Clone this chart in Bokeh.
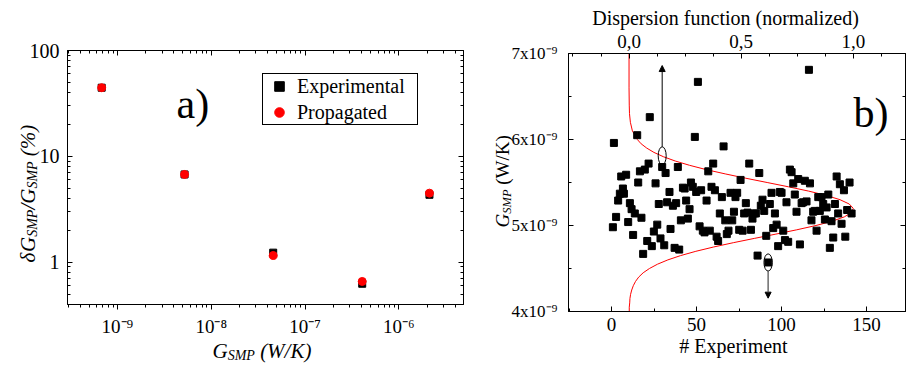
import math
from bokeh.plotting import figure
from bokeh.models import (Range1d, FixedTicker, LogAxis, LinearAxis, CustomJSTickFormatter,
                          Legend, LegendItem, Label, Arrow, NormalHead, GridBox)
from bokeh.embed import file_html
from bokeh.resources import INLINE

FONT = "Liberation Serif"

# ---------------- Panel a data ----------------
g_smp_a = [6.8e-10, 5.2e-9, 4.58e-8, 4.07e-7, 2.12e-6]          # W/K
err_experimental = [44.5, 6.74, 1.23, 0.625, 4.33]               # %
err_propagated = [44.5, 6.74, 1.157, 0.657, 4.49]                # %
a_major_x = [1e-9, 1e-8, 1e-7, 1e-6]
a_major_y = [1, 10, 100]

# ---------------- Panel b data ----------------
experiment_no = [0.8, 1.4, 2.7, 3.9, 4.9, 5.7, 6.7, 7.3, 8.6, 9.8,
                 10.8, 11.8, 12.7, 13.7, 15.1, 15.7, 16.7, 17.6, 18.6, 19.6,
                 21.0, 21.8, 22.5, 23.7, 24.9, 25.9, 26.9, 27.8, 28.8, 29.8,
                 31.0, 31.8, 32.7, 34.1, 34.7, 36.1, 37.1, 38.0, 39.0, 39.8,
                 40.8, 42.0, 43.0, 43.9, 44.9, 45.9, 46.7, 47.8, 49.0, 49.8,
                 50.8, 51.8, 52.7, 53.7, 54.7, 55.9, 56.9, 57.8, 58.8, 59.8,
                 60.8, 61.8, 62.7, 63.7, 64.9, 65.9, 66.9, 67.8, 68.8, 70.0,
                 71.0, 72.0, 72.9, 73.9, 75.1, 75.9, 77.1, 78.0, 79.0, 80.0,
                 81.0, 82.0, 82.9, 83.9, 84.9, 85.9, 86.9, 87.8, 88.8, 89.8,
                 91.0, 92.2, 93.1, 94.1, 95.1, 96.1, 97.1, 98.0, 99.0, 100.0,
                 101.0, 102.0, 102.9, 103.9, 104.9, 105.9, 106.9, 107.8, 108.8, 109.8,
                 110.8, 111.8, 112.7, 113.7, 114.7, 116.1, 116.7, 117.6, 118.6, 119.6,
                 120.6, 121.6, 122.5, 123.5, 124.5, 125.5, 126.5, 127.5, 128.4, 129.4,
                 130.4, 131.4, 132.4, 133.3, 134.3, 135.3, 136.7, 137.5, 138.6, 140.0,
                 141.2]
# G_SMP in units of 1e-9 W/K
g_smp_b = [4.98, 5.96, 5.10, 5.29, 5.37, 5.57, 5.43, 5.37, 5.59, 5.04,
           5.26, 5.19, 4.89, 5.14, 6.05, 5.50, 5.63, 5.09, 4.67, 5.65,
           4.82, 5.72, 6.26, 4.76, 4.93, 5.49, 5.01, 5.25, 4.85, 5.68,
           4.77, 5.61, 5.27, 5.39, 4.96, 5.23, 4.74, 5.26, 5.68, 4.72,
           5.06, 5.44, 5.43, 5.29, 5.08, 5.19, 5.50, 5.45, 6.03, 5.39,
           6.67, 4.99, 5.41, 4.94, 4.92, 5.29, 5.63, 4.94, 5.45, 5.72,
           5.41, 4.87, 4.82, 5.14, 5.33, 5.92, 5.06, 4.90, 4.94, 5.38,
           5.06, 5.16, 5.33, 5.38, 4.95, 5.53, 4.94, 5.14, 5.26, 5.15,
           5.72, 4.95, 5.08, 5.14, 5.14, 4.65, 5.61, 5.23, 5.30, 5.17,
           4.88, 4.57, 5.25, 5.38, 4.97, 5.14, 5.01, 4.76, 5.39, 5.38,
           4.94, 4.83, 5.27, 4.81, 5.65, 5.62, 5.49, 5.36, 5.16, 5.54,
           4.78, 5.26, 5.27, 5.52, 5.28, 6.81, 5.49, 5.06, 5.16, 5.17,
           4.94, 5.33, 5.17, 5.33, 5.25, 5.07, 5.21, 5.36, 4.74, 5.05,
           4.86, 5.25, 5.57, 5.14, 5.48, 5.02, 5.41, 4.87, 5.18, 5.50,
           5.14]
# dispersion function (normalized) read along G_SMP (units of 1e-9 W/K)
disp_g = [4.00, 4.05, 4.10, 4.15, 4.20, 4.25, 4.30, 4.35, 4.40, 4.45,
          4.50, 4.55, 4.60, 4.65, 4.70, 4.75, 4.80, 4.85, 4.90, 4.95,
          5.00, 5.05, 5.10, 5.15, 5.20, 5.25, 5.30, 5.35, 5.40, 5.45,
          5.50, 5.55, 5.60, 5.65, 5.70, 5.75, 5.80, 5.85, 5.90, 5.95,
          6.00, 6.10, 6.20, 6.30, 6.40, 6.60, 7.00]
disp_value = [0.001, 0.001, 0.003, 0.004, 0.007, 0.012, 0.019, 0.029, 0.043, 0.063,
              0.091, 0.127, 0.173, 0.230, 0.298, 0.377, 0.465, 0.559, 0.655, 0.748,
              0.834, 0.906, 0.960, 0.992, 1.000, 0.982, 0.941, 0.879, 0.801, 0.711,
              0.616, 0.520, 0.429, 0.344, 0.270, 0.206, 0.153, 0.111, 0.079, 0.054,
              0.037, 0.015, 0.006, 0.002, 0.001, 0.000, 0.000]
b_major_x = [0, 50, 100, 150]
b_major_y = [4, 5, 6, 7]
b_major_top = [0.0, 0.5, 1.0]

# annotation marks (axis indicators)
curve_marker = dict(x=29.8, y=5.81, w=4.7, h=0.21, y_tip=6.86)
points_marker = dict(x=92.1, y=4.57, w=4.9, h=0.20, y_tip=4.155)

W_TOTAL, H_TOTAL = 906, 365

# ---------------- helpers ----------------
W_UP = {'G': 722, 'S': 556, 'M': 889, 'P': 556, ' ': 250, '(': 333, ')': 333,
        'W': 944, '/': 278, 'K': 722, '%': 833}
W_IT = {'δ': 500, 'G': 722, 'S': 500, 'M': 833, 'P': 611, ' ': 250, '(': 333, ')': 333,
        'W': 833, '/': 278, 'K': 667, '%': 833}
BASE_FIX = 0.26   # measured offset of the drawn baseline, in em


def text_width(txt, size, italic):
    table = W_IT if italic else W_UP
    return sum(table.get(c, 500) for c in txt) * size / 1000.0


def page_label(p, txt, px, py, size, italic=False, align="left", vertical=False):
    """Label on the full-page overlay: px, py = baseline anchor in page pixels from top-left."""
    if vertical:
        px -= BASE_FIX * size
        ang = math.pi / 2
    else:
        py -= BASE_FIX * size
        ang = 0.0
    p.add_layout(Label(x=px, y=H_TOTAL - py, x_units="screen", y_units="screen", text=txt,
                       angle=ang, text_font=FONT, text_font_size=f"{size}px",
                       text_font_style="italic" if italic else "normal",
                       text_color="black", text_align=align, text_baseline="alphabetic"))


def page_pieces(p, pieces, px, py, vertical=False, sub_shift=3):
    pos = 0.0
    for txt, size, italic, sub in pieces:
        stripped = txt.lstrip(" ")
        pos += text_width(txt[:len(txt) - len(stripped)], size, italic)
        if vertical:
            page_label(p, stripped, px + (sub_shift if sub else 0), py - pos, size, italic,
                       vertical=True)
        else:
            page_label(p, stripped, px + pos, py + (sub_shift if sub else 0), size, italic)
        pos += text_width(stripped, size, italic)


def no_align(p):
    if "frame_align" in p.properties():
        p.frame_align = False


HIDE = CustomJSTickFormatter(code="return '';")


def style_axis(ax, tin, tout, mtin, mtout, label_size="19px", standoff=6, hide_labels=False):
    ax.axis_line_color = "black"
    ax.axis_line_width = 1
    ax.major_tick_line_color = "black"
    ax.minor_tick_line_color = "black"
    ax.major_tick_in = tin
    ax.major_tick_out = tout
    ax.minor_tick_in = mtin
    ax.minor_tick_out = mtout
    ax.major_label_text_font = FONT
    ax.major_label_text_color = "black"
    ax.major_label_standoff = standoff
    ax.major_label_text_font_size = label_size
    if hide_labels:
        ax.formatter = HIDE
        ax.major_label_standoff = 0
        ax.major_label_text_font_size = "2px"


SUP = """
const m = {'-':'\u207b','0':'\u2070','1':'\u00b9','2':'\u00b2','3':'\u00b3','4':'\u2074',
           '5':'\u2075','6':'\u2076','7':'\u2077','8':'\u2078','9':'\u2079'};
"""

# ---------------- Panel a ----------------
pa = figure(width=465, height=365, x_axis_type="log", y_axis_type="log",
            x_range=Range1d(2.94e-10, 4.89e-6), y_range=Range1d(0.398, 100),
            output_backend="svg", toolbar_location=None,
            min_border_left=67, min_border_right=2, min_border_top=50, min_border_bottom=61)
no_align(pa)
pa.xgrid.visible = False
pa.ygrid.visible = False
pa.outline_line_color = "black"
pa.background_fill_color = "white"
pa.border_fill_color = "white"

a_minor_x = [k * 10.0 ** e for e in range(-10, -5) for k in range(2, 10)]
a_minor_y = [k * 10.0 ** e for e in range(-1, 2) for k in range(2, 10)]
fx_a = CustomJSTickFormatter(code=SUP + """
const e = Math.round(Math.log10(tick));
return '10' + String(e).split('').map(c => m[c]).join('');
""")
fy_a = CustomJSTickFormatter(code="return String(Math.round(tick));")

pa.xaxis.ticker = FixedTicker(ticks=a_major_x, minor_ticks=a_minor_x)
pa.xaxis.formatter = fx_a
pa.yaxis.ticker = FixedTicker(ticks=a_major_y, minor_ticks=a_minor_y)
pa.yaxis.formatter = fy_a
style_axis(pa.xaxis[0], 0, 5, 0, 3, label_size="19px", standoff=6)
style_axis(pa.yaxis[0], 5, 0, 3, 0, label_size="20px", standoff=8)

top_a = LogAxis(ticker=FixedTicker(ticks=a_major_x, minor_ticks=a_minor_x))
style_axis(top_a, 5, 0, 3, 0, hide_labels=True)
pa.add_layout(top_a, "above")
right_a = LogAxis(ticker=FixedTicker(ticks=a_major_y, minor_ticks=a_minor_y))
style_axis(right_a, 5, 0, 3, 0, hide_labels=True)
pa.add_layout(right_a, "right")

r_exp = pa.scatter(g_smp_a, err_experimental, marker="square", size=7,
                   fill_color="black", line_color="black")
r_prop = pa.scatter(g_smp_a, err_propagated, marker="circle", size=8,
                    fill_color="red", line_color="red")

legend = Legend(items=[LegendItem(label="Experimental", renderers=[r_exp]),
                       LegendItem(label="Propagated", renderers=[r_prop])],
                location=(195, 179), orientation="vertical",
                label_text_font=FONT, label_text_font_size="20px", label_text_color="black",
                border_line_color="black", border_line_width=1, border_line_alpha=1,
                background_fill_color="white", background_fill_alpha=1,
                padding=0, spacing=2, margin=0, label_height=24, glyph_height=24,
                glyph_width=32, label_standoff=2, label_width=120)
pa.add_layout(legend)

pa.add_layout(Label(x=109, y=201, x_units="screen", y_units="screen", text="a)",
                    text_font=FONT, text_font_size="42px", text_color="black",
                    text_align="left", text_baseline="alphabetic"))

# ---------------- Panel b ----------------
pb = figure(width=441, height=365,
            x_range=Range1d(-25.3, 172.9), y_range=Range1d(4, 7),
            output_backend="svg", toolbar_location=None,
            min_border_left=103, min_border_right=1, min_border_top=53, min_border_bottom=54)
no_align(pb)
pb.extra_x_ranges = {"disp": Range1d(-0.270, 1.233)}
pb.xgrid.visible = False
pb.ygrid.visible = False
pb.outline_line_color = "black"
pb.background_fill_color = "white"
pb.border_fill_color = "white"

pb.xaxis.ticker = FixedTicker(ticks=b_major_x, minor_ticks=[-25, 25, 75, 125])
pb.yaxis.ticker = FixedTicker(ticks=b_major_y, minor_ticks=[4.5, 5.5, 6.5])
pb.yaxis.formatter = CustomJSTickFormatter(code="return Math.round(tick) + 'x10\u207b\u2079';")
style_axis(pb.xaxis[0], 5, 0, 3, 0, label_size="19px", standoff=6)
style_axis(pb.yaxis[0], 5, 0, 3, 0, label_size="17px", standoff=11)

top_b = LinearAxis(x_range_name="disp",
                   ticker=FixedTicker(ticks=b_major_top,
                                      minor_ticks=[-0.25, -0.125, 0.125, 0.25, 0.375,
                                                   0.625, 0.75, 0.875, 1.125]),
                   formatter=CustomJSTickFormatter(code="return tick.toFixed(1).replace('.', ',');"))
style_axis(top_b, 5, 0, 3, 0, label_size="19px", standoff=6)
pb.add_layout(top_b, "above")
right_b = LinearAxis(ticker=FixedTicker(ticks=b_major_y, minor_ticks=[4.5, 5.5, 6.5]))
style_axis(right_b, 5, 0, 3, 0, hide_labels=True)
pb.add_layout(right_b, "right")

pb.line(disp_value, disp_g, x_range_name="disp", line_color="red", line_width=1)
pb.scatter(experiment_no, g_smp_b, marker="square", size=7,
           fill_color="black", line_color="black")

pb.ellipse(x=[curve_marker["x"]], y=[curve_marker["y"]], width=curve_marker["w"],
           height=curve_marker["h"], fill_color=None, line_color="black", line_width=1)
pb.add_layout(Arrow(end=NormalHead(size=6, fill_color="black", line_color="black"),
                    x_start=curve_marker["x"], y_start=curve_marker["y"] + curve_marker["h"] / 2,
                    x_end=curve_marker["x"], y_end=curve_marker["y_tip"],
                    line_color="black", line_width=1))
pb.ellipse(x=[points_marker["x"]], y=[points_marker["y"]], width=points_marker["w"],
           height=points_marker["h"], fill_color=None, line_color="black", line_width=1)
pb.add_layout(Arrow(end=NormalHead(size=6, fill_color="black", line_color="black"),
                    x_start=points_marker["x"], y_start=points_marker["y"] - points_marker["h"] / 2,
                    x_end=points_marker["x"], y_end=points_marker["y_tip"],
                    line_color="#555555", line_width=1.3))

pb.add_layout(Label(x=285, y=199, x_units="screen", y_units="screen", text="b)",
                    text_font=FONT, text_font_size="42px", text_color="black",
                    text_align="left", text_baseline="alphabetic"))

# ---------------- transparent overlay carrying the axis titles ----------------
ov = figure(width=W_TOTAL, height=H_TOTAL, x_range=Range1d(0, W_TOTAL), y_range=Range1d(0, H_TOTAL),
            x_axis_location=None, y_axis_location=None, output_backend="svg",
            toolbar_location=None, min_border=0,
            min_border_left=0, min_border_right=0, min_border_top=0, min_border_bottom=0)
no_align(ov)
ov.xgrid.visible = False
ov.ygrid.visible = False
ov.outline_line_color = None
ov.background_fill_alpha = 0
ov.border_fill_alpha = 0

# panel a: x title  G_SMP (W/K)  (italic)
page_pieces(ov, [("G", 21, True, False), ("SMP", 14, True, True), (" (W/K)", 21, True, False)],
            212, 356, vertical=False)
# panel a: y title  δG_SMP/G_SMP (%)  (italic, vertical)
page_pieces(ov, [("δ", 21, True, False), ("G", 21, True, False), ("SMP", 14, True, True),
                 ("/G", 21, True, False), ("SMP", 14, True, True), (" (%)", 21, True, False)],
            33, 262, vertical=True)
# panel b: titles
page_label(ov, "Dispersion function (normalized)", 725, 23, 20, align="center")
page_label(ov, "# Experiment", 733, 351, 20, align="center")
page_pieces(ov, [("G", 19, True, False), ("SMP", 12.5, True, True), (" (W/K)", 19, False, False)],
            507, 227, vertical=True)

layout = GridBox(children=[(pa, 0, 0), (pb, 0, 1), (ov, 0, 0, 1, 2)], spacing=0)
with open("out.html", "w", encoding="utf-8") as f:
    f.write(file_html(layout, INLINE))
